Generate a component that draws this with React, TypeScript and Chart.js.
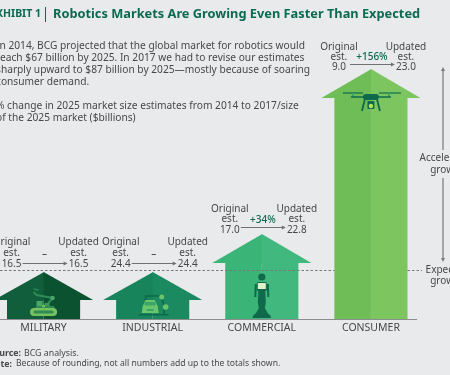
import React, { useEffect, useRef } from "react";
import { Chart, registerables } from "chart.js";

Chart.register(...registerables);

const categories = ["MILITARY", "INDUSTRIAL", "COMMERCIAL", "CONSUMER"];
const originalEstimates = ["16.5", "24.4", "17.0", "9.0"];
const updatedEstimates = ["16.5", "24.4", "22.8", "23.0"];
const changeLabels = ["–", "–", "+34%", "+156%"];
const eaveHeights = [19, 19, 56, 221];
const apexHeights = [47, 47, 85, 250];
const expectedGrowthLevel = 49;

const leftColors = ["#115e3c", "#17845c", "#3bb478", "#6fbd56"];
const rightColors = ["#0b5231", "#1b8a61", "#41b87d", "#7cc55f"];

const FONT = '"Noto Sans"';
const TEXT = "#45494b";
const GREEN = "#0b6a52";
const OFFSET = 30;
const BG = "#e9eaeb";

const labelRowBottom = [264, 264, 230, 67];
const labelRowGap = [11, 11, 10.5, 10];
const bodyLines: [string, number][] = [
  ["In 2014, BCG projected that the global market for robotics would", 46],
  ["reach $67 billion by 2025. In 2017 we had to revise our estimates", 58],
  ["sharply upward to $87 billion by 2025—mostly because of soaring", 70],
  ["consumer demand.", 82],
  ["% change in 2025 market size estimates from 2014 to 2017/size", 106],
  ["of the 2025 market ($billions)", 118],
];

function text(c: CanvasRenderingContext2D, s: string, x: number, y: number, font: string, color = TEXT, align: CanvasTextAlign = "center") {
  c.font = font;
  c.fillStyle = color;
  c.textAlign = align;
  c.textBaseline = "middle";
  c.fillText(s, x, y);
}

function arrowLine(c: CanvasRenderingContext2D, x1: number, y1: number, x2: number, y2: number, color: string, w = 1) {
  c.strokeStyle = color;
  c.fillStyle = color;
  c.lineWidth = w;
  c.setLineDash([]);
  c.beginPath();
  c.moveTo(x1, y1);
  c.lineTo(x2, y2);
  c.stroke();
  const a = Math.atan2(y2 - y1, x2 - x1);
  c.beginPath();
  c.moveTo(x2 + Math.cos(a) * 2, y2 + Math.sin(a) * 2);
  c.lineTo(x2 - Math.cos(a) * 2 - Math.sin(a) * 2, y2 - Math.sin(a) * 2 + Math.cos(a) * 2);
  c.lineTo(x2 - Math.cos(a) * 2 + Math.sin(a) * 2, y2 - Math.sin(a) * 2 - Math.cos(a) * 2);
  c.closePath();
  c.fill();
}

function rr(c: CanvasRenderingContext2D, x: number, y: number, w: number, h: number, r: number, color: string) {
  c.fillStyle = color;
  c.beginPath();
  c.roundRect(x, y, w, h, r);
  c.fill();
}
function dot(c: CanvasRenderingContext2D, x: number, y: number, r: number, color: string) {
  c.fillStyle = color;
  c.beginPath();
  c.arc(x, y, r, 0, Math.PI * 2);
  c.fill();
}
function seg(c: CanvasRenderingContext2D, pts: number[][], w: number, color: string) {
  c.strokeStyle = color;
  c.lineWidth = w;
  c.setLineDash([]);
  c.beginPath();
  pts.forEach((p, i) => (i ? c.lineTo(p[0], p[1]) : c.moveTo(p[0], p[1])));
  c.stroke();
}

function robotIcon(c: CanvasRenderingContext2D, x: number, b: number) {
  const d = "#2f8a55";
  seg(c, [[x - 10, b - 27], [x - 7, b - 24], [x + 9, b - 21], [x + 1, b - 11]], 2.2, d);
  seg(c, [[x - 10, b - 30], [x - 5, b - 29]], 1.5, d);
  dot(c, x + 9, b - 21, 2.2, "#4aa765");
  rr(c, x - 7, b - 18, 6, 6, 0.5, "#4aa765");
  rr(c, x + 1, b - 16, 5, 4, 0.5, "#3d9a5d");
  rr(c, x - 8, b - 13, 19, 5, 1, "#2f8a55");
  rr(c, x - 13.5, b - 11, 27, 8, 4, "#76c25e");
  rr(c, x - 10, b - 8.5, 20, 3, 1.5, "#2f8a55");
  dot(c, x, b - 13, 1.6, "#76c25e");
}
function carIcon(c: CanvasRenderingContext2D, x: number, b: number) {
  const d = "#0e6a4a";
  seg(c, [[x - 7, b - 19], [x - 7, b - 23], [x + 8, b - 23], [x + 12, b - 12], [x + 11, b - 4]], 1.6, d);
  rr(c, x - 14, b - 5, 30, 1.4, 0.5, d);
  c.fillStyle = "#6bc56b";
  c.beginPath();
  c.moveTo(x - 10, b - 13);
  c.lineTo(x - 7, b - 19);
  c.lineTo(x + 2, b - 19);
  c.lineTo(x + 5, b - 13);
  c.lineTo(x + 6, b - 6);
  c.lineTo(x - 11, b - 6);
  c.closePath();
  c.fill();
  rr(c, x - 8, b - 17, 11, 3.5, 1, "#39a56b");
  rr(c, x - 6, b - 10, 7, 2, 0.5, "#39a56b");
  dot(c, x + 9, b - 22, 2.5, "#6bc56b");
  dot(c, x + 13, b - 12, 2.8, "#6bc56b");
}
function personIcon(c: CanvasRenderingContext2D, x: number, b: number) {
  const d = "#0f6a4c";
  dot(c, x, b - 42, 3.6, d);
  rr(c, x - 5, b - 37, 10, 9, 1.5, d);
  seg(c, [[x - 6, b - 35], [x - 6.5, b - 22]], 2, d);
  seg(c, [[x + 6, b - 35], [x + 6.5, b - 22]], 2, d);
  c.fillStyle = d;
  c.beginPath();
  c.moveTo(x - 3.5, b - 28);
  c.lineTo(x + 3.5, b - 28);
  c.lineTo(x + 4, b - 16);
  c.lineTo(x + 3, b - 11);
  c.quadraticCurveTo(x + 5, b - 6, x + 9, b - 3);
  c.lineTo(x + 9, b - 1);
  c.lineTo(x - 9, b - 1);
  c.lineTo(x - 9, b - 3);
  c.quadraticCurveTo(x - 5, b - 6, x - 3, b - 11);
  c.lineTo(x - 4, b - 16);
  c.closePath();
  c.fill();
  rr(c, x - 4, b - 36, 8, 6, 0.5, "#dff3c8");
}
function droneIcon(c: CanvasRenderingContext2D, x: number, y: number) {
  const d = "#0f6a4c";
  seg(c, [[x - 28, y], [x - 8, y]], 1.2, d);
  seg(c, [[x + 8, y], [x + 30, y]], 1.2, d);
  seg(c, [[x - 18, y], [x - 18, y + 4]], 2, "#3aa663");
  seg(c, [[x + 18, y], [x + 18, y + 4]], 2, "#3aa663");
  seg(c, [[x - 20, y + 4], [x + 20, y + 4]], 1.6, d);
  rr(c, x - 8, y + 1, 16, 6, 3, d);
  seg(c, [[x - 6, y + 6], [x - 9, y + 18]], 1.8, d);
  seg(c, [[x + 6, y + 6], [x + 9, y + 18]], 1.8, d);
  rr(c, x - 3.5, y + 8, 7, 8, 1, d);
  dot(c, x, y + 13, 2.2, "#b6e04f");
}

const housePlugin = {
  id: "houses",
  afterDatasetsDraw(chart: any) {
    const c: CanvasRenderingContext2D = chart.ctx;
    const y = chart.scales.y;
    const x = chart.scales.x;
    const left = chart.getDatasetMeta(0).data;
    const right = chart.getDatasetMeta(1).data;
    c.save();
    categories.forEach((_, i) => {
      const cx = x.getPixelForValue(i);
      const half = left[i].width;
      const over = half + 13;
      const eave = y.getPixelForValue(eaveHeights[i]);
      const apex = y.getPixelForValue(apexHeights[i]);
      c.fillStyle = leftColors[i];
      c.beginPath();
      c.moveTo(cx + 0.5, apex);
      c.lineTo(cx - over, eave);
      c.lineTo(cx + 0.5, eave);
      c.closePath();
      c.fill();
      c.fillStyle = rightColors[i];
      c.beginPath();
      c.moveTo(cx, apex);
      c.lineTo(cx + over, eave);
      c.lineTo(cx, eave);
      c.closePath();
      c.fill();
    });

    const base = y.getPixelForValue(0);
    const lvl = y.getPixelForValue(expectedGrowthLevel) + 0.5;
    c.strokeStyle = "#77797a";
    c.lineWidth = 1;
    c.setLineDash([2.5, 2]);
    c.beginPath();
    c.moveTo(OFFSET, lvl);
    c.lineTo(left[3].x - left[3].width / 2, lvl);
    c.moveTo(right[3].x + right[3].width / 2, lvl);
    c.lineTo(OFFSET + 422, lvl);
    c.stroke();
    c.setLineDash([]);
    c.strokeStyle = "#8b8d8e";
    c.lineWidth = 1;
    c.beginPath();
    c.moveTo(OFFSET, base + 0.5);
    c.lineTo(OFFSET + 417, base + 0.5);
    c.stroke();

    robotIcon(c, x.getPixelForValue(0), base);
    carIcon(c, x.getPixelForValue(1), base);
    personIcon(c, x.getPixelForValue(2), base);
    droneIcon(c, x.getPixelForValue(3), y.getPixelForValue(apexHeights[3]) + 24);

    const lab = `10px ${FONT}`;
    categories.forEach((_, i) => {
      const cx = x.getPixelForValue(i);
      const bottom = labelRowBottom[i];
      const gap = labelRowGap[i];
      const lx = cx - 32;
      const rx = cx + 35;
      text(c, "Original", lx, bottom - 2 * gap, lab);
      text(c, "est.", lx, bottom - gap, lab);
      text(c, originalEstimates[i], lx, bottom, lab);
      text(c, "Updated", rx, bottom - 2 * gap, lab);
      text(c, "est.", rx, bottom - gap, lab);
      text(c, updatedEstimates[i], rx, bottom, lab);
      arrowLine(c, lx + 11, bottom - 0.5 + (i > 1 ? -2 : 0), rx - 13, bottom - 0.5 + (i > 1 ? -2 : 0), "#6f7173");
      text(c, changeLabels[i], cx + 1, bottom - 10, `500 10px ${FONT}`, i < 2 ? TEXT : GREEN);
    });

    const o = OFFSET;
    text(c, "EXHIBIT 1", o + 41, 14, `bold 10.5px ${FONT}`, GREEN, "right");
    c.fillStyle = GREEN;
    c.fillRect(o + 45, 7, 1, 15);
    text(c, "Robotics Markets Are Growing Even Faster Than Expected", o + 53, 14, `bold 12.8px ${FONT}`, GREEN, "left");
    bodyLines.forEach(([s, ly]) => text(c, s, o - 4, ly, `10.2px ${FONT}`, TEXT, "left"));

    const ax = o + 443;
    const arrow = "#77797a";
    arrowLine(c, ax, 150, ax, 69, arrow, 1.2);
    arrowLine(c, ax, 178, ax, 260, arrow, 1.2);
    text(c, "Accelerated", o + 447, 158, lab);
    text(c, "growth", o + 447, 170, lab);
    text(c, "Expected", o + 447, 270, lab);
    text(c, "growth", o + 447, 281, lab);

    text(c, "Source:", o + 21, 353, `bold 8.8px ${FONT}`, TEXT, "right");
    text(c, "BCG analysis.", o + 24, 353, `8.8px ${FONT}`, TEXT, "left");
    text(c, "Note:", o + 12, 364, `bold 8.8px ${FONT}`, TEXT, "right");
    text(c, "Because of rounding, not all numbers add up to the totals shown.", o + 16, 364, `8.6px ${FONT}`, TEXT, "left");
    c.restore();
  },
};

export default function App() {
  const ref = useRef<HTMLCanvasElement>(null);
  useEffect(() => {
    document.body.style.margin = "0";
    document.body.style.background = BG;
    document.body.style.overflow = "hidden";
    const chart = new Chart(ref.current!, {
      type: "bar",
      data: {
        labels: categories,
        datasets: [
          { data: eaveHeights, backgroundColor: leftColors, categoryPercentage: 0.67, barPercentage: 1 },
          { data: eaveHeights, backgroundColor: rightColors, categoryPercentage: 0.67, barPercentage: 1 },
        ],
      },
      options: {
        animation: false,
        responsive: false,
        layout: { padding: { left: 19, right: 24.5, top: 0, bottom: 0 } },
        plugins: { legend: { display: false }, title: { display: false }, tooltip: { enabled: false } },
        scales: {
          x: {
            grid: { display: false, drawTicks: false },
            border: { display: false },
            ticks: { color: TEXT, font: { family: FONT, size: 10.5 }, padding: 3, maxRotation: 0 },
            afterFit(s: any) {
              s.height = 56;
            },
          },
          y: { display: false, min: 0, max: 319 },
        },
      },
      plugins: [housePlugin],
    } as any);
    return () => chart.destroy();
  }, []);
  return (
    <canvas
      ref={ref}
      width={480}
      height={375}
      style={{ position: "absolute", left: -OFFSET, top: 0, width: 480, height: 375, display: "block", background: BG }}
    />
  );
}
